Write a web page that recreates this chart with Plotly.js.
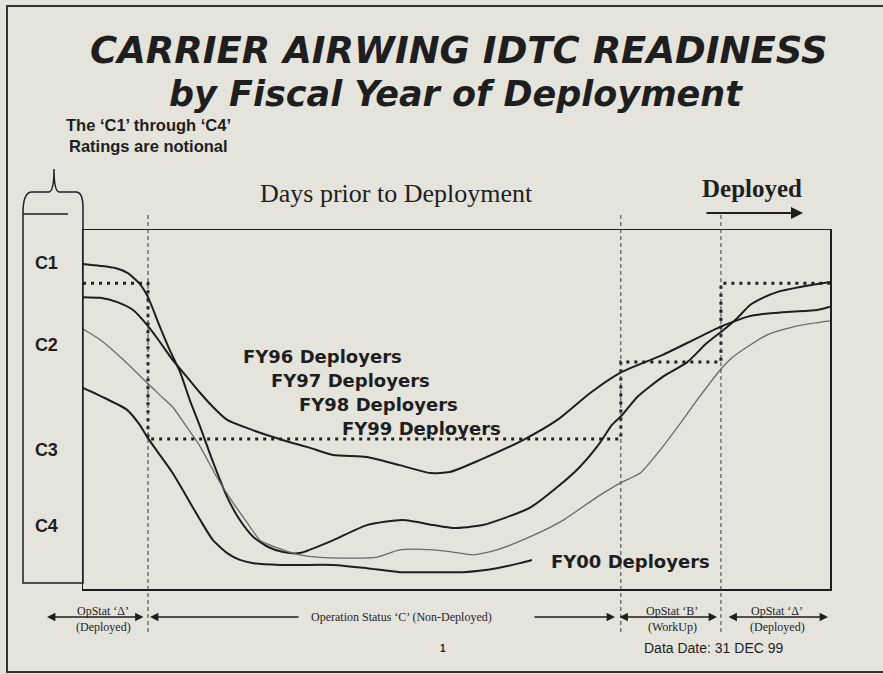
<!DOCTYPE html>
<html>
<head>
<meta charset="utf-8">
<script src="https://cdn.plot.ly/plotly-3.0.1.min.js"></script>
<style>
html,body{margin:0;padding:0;background:#e4e4dd;}
#chart{width:883px;height:674px;}
</style>
</head>
<body>
<div id="chart"></div>
<script>
// ---------- DATA (x: position along the pre-deployment timeline, 0-100; y: notional readiness index, 0-100) ----------
const fy96X = [0, 2.3, 4.6, 6.7, 8.6, 10.3, 12.0, 13.9, 15.7, 17.4, 19.3, 22.0, 24.6, 27.7, 30.4, 33.5, 38.0, 42.4, 46.5, 49.1, 53.1, 58.9, 63.5, 67.9, 71.9, 77.6, 82.2, 85.3, 87.0, 88.9, 91.0, 94.6, 98.3, 100];
const fy96Y = [81.3, 81.1, 79.9, 77.7, 73.5, 68.8, 63.8, 59.1, 54.6, 50.7, 47.1, 44.8, 42.9, 40.9, 39.3, 37.3, 36.8, 34.5, 32.3, 32.6, 35.9, 41.5, 47.1, 54.6, 60.2, 65.2, 69.9, 73.0, 74.4, 75.8, 76.6, 77.2, 77.7, 78.6];

const fy97X = [0, 2.3, 4.3, 6.0, 7.6, 8.7, 10.3, 11.6, 13.0, 14.3, 15.7, 17.4, 19.3, 21.0, 22.8, 24.8, 26.8, 29.0, 33.5, 38.0, 42.8, 46.9, 49.5, 53.5, 59.8, 63.5, 66.5, 69.2, 70.8, 72.2, 74.2, 77.6, 80.9, 83.5, 85.7, 87.6, 89.3, 91.0, 92.9, 96.0, 100];
const fy97Y = [90.5, 90.0, 89.4, 88.0, 85.0, 81.3, 73.0, 66.6, 60.4, 52.6, 45.1, 35.4, 25.6, 19.2, 14.5, 11.7, 10.3, 10.0, 13.6, 17.8, 19.2, 17.8, 17.0, 17.8, 22.6, 28.4, 34.0, 40.7, 45.7, 48.5, 53.5, 59.1, 63.2, 68.5, 72.1, 75.5, 79.1, 81.1, 82.7, 84.1, 85.5];

const fy98X = [0, 2.3, 5.0, 8.6, 10.3, 12.0, 13.9, 15.7, 17.9, 20.1, 22.0, 23.7, 26.8, 29.0, 31.3, 35.7, 39.4, 42.4, 46.9, 49.5, 52.2, 55.4, 59.8, 64.3, 68.8, 71.9, 74.6, 77.6, 80.3, 82.2, 85.3, 87.0, 88.9, 91.6, 95.6, 100];
const fy98Y = [72.4, 69.4, 64.6, 57.4, 54.0, 50.7, 45.1, 39.6, 31.2, 24.0, 18.4, 13.6, 10.9, 9.5, 8.9, 8.6, 8.9, 10.9, 10.9, 10.3, 9.5, 10.9, 14.5, 19.2, 25.6, 29.5, 32.3, 39.6, 47.1, 52.6, 61.0, 64.6, 67.4, 70.8, 73.3, 74.7];

const fy00X = [0, 2.9, 5.9, 7.6, 8.6, 10.3, 12.0, 13.9, 15.7, 17.4, 19.3, 21.0, 22.8, 26.4, 29.0, 33.5, 38.0, 42.4, 46.5, 50.9, 55.4, 58.5, 60.1];
const fy00Y = [56.0, 53.2, 49.9, 45.7, 42.3, 37.3, 32.3, 25.6, 19.2, 13.6, 10.0, 8.1, 7.2, 6.7, 6.7, 6.7, 5.8, 4.7, 4.7, 4.7, 5.8, 7.2, 8.1];

// notional required-readiness step by operating status period
const stepX = [0, 8.7, 72.0, 85.4, 100];
const stepY = [85.2, 41.8, 63.2, 85.2, 85.2];

// boundaries between operating status periods
const phaseBounds = [8.7, 72.0, 85.4];

// notional C-rating levels
const ratingLevels = [90.8, 68.0, 38.7, 17.5];
const ratingLabels = ['C1', 'C2', 'C3', 'C4'];

const seriesLabels = ['FY96 Deployers', 'FY97 Deployers', 'FY98 Deployers', 'FY99 Deployers', 'FY00 Deployers'];
const phaseTop = ['OpStat ‘Δ’', 'OpStat ‘B’', 'OpStat ‘Δ’'];
const phaseBottom = ['(Deployed)', '(WorkUp)', '(Deployed)'];
const phaseC = 'Operation Status ‘C’ (Non-Deployed)';

// ---------- LAYOUT HELPERS ----------
const PL = 83, PR = 830, PT = 230, PB = 589, W = 883, H = 674;
const PX = px => (px - PL) / (PR - PL);
const PY = py => (PB - py) / (PB - PT);
const pt = (px, py) => PX(px).toFixed(5) + ',' + PY(py).toFixed(5);

const INK = '#1e1e1e';
const sans = 'Liberation Sans, Arial, sans-serif';
const serif = 'Liberation Serif, Times New Roman, serif';
const dj = 'DejaVu Sans, sans-serif';

function txt(text, px, py, font, extra) {
  return Object.assign({xref: 'paper', yref: 'paper', x: PX(px), y: PY(py), text: text,
    showarrow: false, xanchor: 'center', yanchor: 'middle', font: font}, extra || {});
}
function arrow(headPx, tailPx, py, both, width) {
  return {xref: 'paper', yref: 'paper', x: PX(headPx), y: PY(py), ax: tailPx - headPx, ay: 0,
    axref: 'pixel', ayref: 'pixel', text: '', showarrow: true,
    arrowhead: 2, arrowsize: 1.2, arrowwidth: width || 1.4, arrowcolor: INK,
    arrowside: both ? 'end+start' : 'end', startarrowhead: 2, startarrowsize: 1.2};
}

// ---------- TRACES ----------
const curveLine = {color: INK, width: 2, shape: 'spline', smoothing: 0.6};
const traces = [
  {x: fy96X, y: fy96Y, name: seriesLabels[0], mode: 'lines', line: curveLine},
  {x: fy97X, y: fy97Y, name: seriesLabels[1], mode: 'lines', line: curveLine},
  {x: fy98X, y: fy98Y, name: seriesLabels[2], mode: 'lines', line: {color: '#6a6a6a', width: 1.3, shape: 'spline', smoothing: 0.6}},
  {x: fy00X, y: fy00Y, name: seriesLabels[4], mode: 'lines', line: curveLine},
  {x: stepX, y: stepY, name: 'Notional requirement', mode: 'lines', line: {color: INK, width: 3, shape: 'hv', dash: '3px,5px'}}
];

// ---------- SHAPES ----------
const shapes = [
  // slide frame
  {type: 'path', xref: 'paper', yref: 'paper', path: 'M' + pt(883, 6) + ' L' + pt(7, 6) + ' L' + pt(7, 672) + ' L' + pt(883, 672),
   line: {color: '#333', width: 2}},
  // rating column with brace
  {type: 'path', xref: 'paper', yref: 'paper',
   path: 'M' + pt(23, 583) + ' L' + pt(23, 213) + ' Q' + pt(23, 192) + ' ' + pt(32, 192) + ' L' + pt(49, 192) +
         ' Q' + pt(54, 191) + ' ' + pt(54, 169) + ' Q' + pt(54, 191) + ' ' + pt(59, 192) + ' L' + pt(76, 192) +
         ' Q' + pt(83, 192) + ' ' + pt(83, 208) + ' L' + pt(83, 583) + ' Z',
   line: {color: INK, width: 1.5}, fillcolor: 'rgba(0,0,0,0)'},
  {type: 'line', xref: 'paper', yref: 'paper', x0: PX(23), x1: PX(68), y0: PY(214), y1: PY(214), line: {color: INK, width: 1.3}}
];
phaseBounds.forEach(b => shapes.push({type: 'line', xref: 'x', yref: 'paper', x0: b, x1: b, y0: PY(632), y1: PY(214),
  line: {color: '#3a3a3a', width: 1, dash: '4px,3px'}}));

// ---------- ANNOTATIONS ----------
const fyFont = {family: dj, size: 18, color: INK, weight: 'bold'};
const smallSerif = {family: serif, size: 12, color: INK};
const annotations = [
  txt('CARRIER AIRWING IDTC READINESS', 459, 50.5, {family: dj, size: 37, color: INK, weight: 'bold', style: 'italic'}),
  txt('by Fiscal Year of Deployment', 456, 94.5, {family: dj, size: 35, color: INK, weight: 'bold', style: 'italic'}),
  txt('The ‘C1’ through ‘C4’', 148, 125, {family: sans, size: 16.5, color: INK, weight: 'bold'}),
  txt('Ratings are notional', 148, 146, {family: sans, size: 16.5, color: INK, weight: 'bold'}),
  txt('Days prior to Deployment', 396, 193, {family: serif, size: 26, color: INK}),
  txt('Deployed', 752, 188, {family: serif, size: 25, color: INK, weight: 'bold'}),
  arrow(803, 705, 213, false, 2),
  txt(seriesLabels[0], 322, 356, fyFont),
  txt(seriesLabels[1], 350, 380, fyFont),
  txt(seriesLabels[2], 378, 404, fyFont),
  txt(seriesLabels[3], 421, 428, fyFont),
  txt(seriesLabels[4], 630, 561, fyFont),
  // operating status bands
  arrow(47, 145, 617, true),
  txt(phaseTop[0], 103, 611, smallSerif),
  txt(phaseBottom[0], 103, 627, smallSerif),
  arrow(150, 300, 617, false),
  txt(phaseC, 401, 617, smallSerif),
  arrow(615, 533, 617, false),
  arrow(717, 618, 617, true),
  txt(phaseTop[1], 672, 611, smallSerif),
  txt(phaseBottom[1], 672, 627, smallSerif),
  arrow(828, 727, 617, true),
  txt(phaseTop[2], 777, 611, smallSerif),
  txt(phaseBottom[2], 777, 627, smallSerif),
  txt('1', 443, 648, {family: sans, size: 10, color: INK, weight: 'bold'}),
  txt('Data Date: 31 DEC 99', 714, 648, {family: sans, size: 14, color: INK})
];

const axisCommon = {range: [0, 100], showgrid: false, zeroline: false, showline: true, mirror: true,
  linecolor: INK, linewidth: 1.5, fixedrange: true};

const layout = {
  width: W, height: H,
  paper_bgcolor: '#e4e4dd', plot_bgcolor: '#e4e4dd',
  margin: {l: PL, r: W - PR, t: PT, b: H - PB, pad: 0},
  showlegend: false, hovermode: false,
  xaxis: Object.assign({}, axisCommon, {showticklabels: false, ticks: ''}),
  yaxis: Object.assign({}, axisCommon, {tickmode: 'array', tickvals: ratingLevels, ticktext: ratingLabels,
    ticks: 'outside', ticklen: 20, tickcolor: 'rgba(0,0,0,0)',
    tickfont: {family: sans, size: 18, color: INK, weight: 'bold'}}),
  shapes: shapes,
  annotations: annotations
};

Plotly.newPlot('chart', traces, layout, {staticPlot: true, displayModeBar: false});
</script>
</body>
</html>
